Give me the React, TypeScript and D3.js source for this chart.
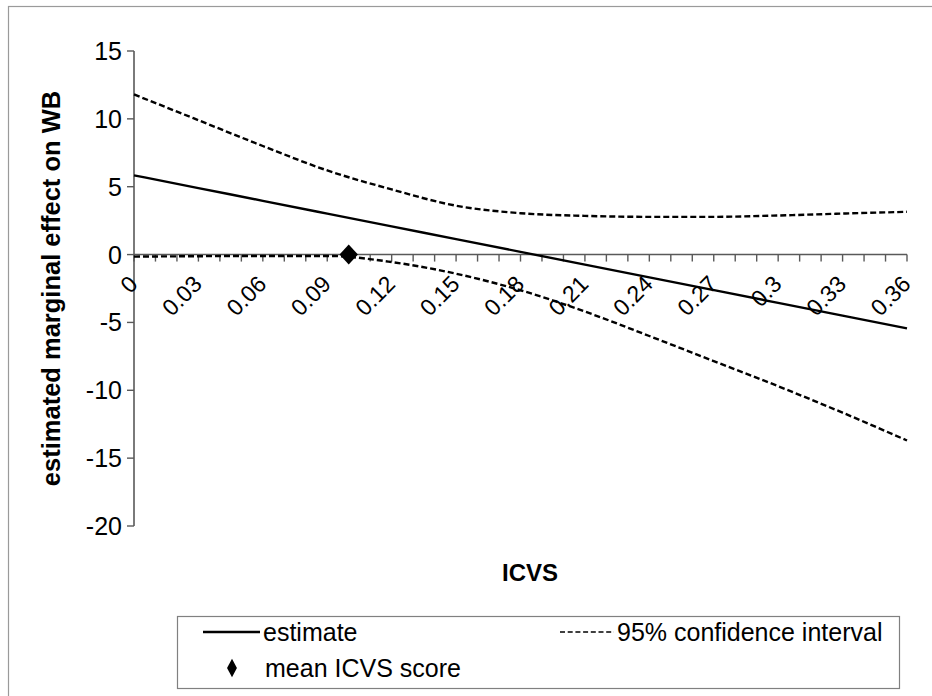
import React from "react";
import * as d3 from "d3";

const icvs = [0, 0.03, 0.06, 0.09, 0.12, 0.15, 0.18, 0.21, 0.24, 0.27, 0.3, 0.33, 0.36];
const estimate = [5.84, 4.9, 3.96, 3.02, 2.08, 1.14, 0.2, -0.74, -1.68, -2.62, -3.56, -4.5, -5.44];
const upperCI = [11.8, 9.9, 8.0, 6.2, 4.8, 3.6, 3.05, 2.85, 2.78, 2.78, 2.88, 3.02, 3.15];
const lowerCI = [-0.15, -0.12, -0.1, -0.1, -0.55, -1.41, -2.63, -4.2, -6.0, -7.85, -9.7, -11.65, -13.7];
const meanICVS = [0.1];
const meanEffect = [0];
const yTicks = [15, 10, 5, 0, -5, -10, -15, -20];
const xLabelTicks = [0, 0.03, 0.06, 0.09, 0.12, 0.15, 0.18, 0.21, 0.24, 0.27, 0.3, 0.33, 0.36];
const xLabels = ["0", "0.03", "0.06", "0.09", "0.12", "0.15", "0.18", "0.21", "0.24", "0.27", "0.3", "0.33", "0.36"];
const legendLabels = ["estimate", "95% confidence interval", "mean ICVS score"];

const W = 932;
const H = 696;
const FONT = "'Liberation Sans', Arial, Helvetica, sans-serif";

export default function App() {
  const x = d3.scaleLinear().domain([0, 0.36]).range([134, 907]);
  const y = d3.scaleLinear().domain([-20, 15]).range([526, 51]);
  const minorTicks = d3.range(0, 37).map((i) => i / 100);

  const line = d3
    .line<[number, number]>()
    .x((d) => x(d[0]))
    .y((d) => y(d[1]))
    .curve(d3.curveMonotoneX);

  const estPath = line(icvs.map((v, i) => [v, estimate[i]]) as [number, number][]) || "";
  const upPath = line(icvs.map((v, i) => [v, upperCI[i]]) as [number, number][]) || "";
  const loPath = line(icvs.map((v, i) => [v, lowerCI[i]]) as [number, number][]) || "";
  const diamond = d3.symbol().type(d3.symbolSquare).size(200)() || "";
  const smallDiamond = d3.symbol().type(d3.symbolDiamond).size(70)() || "";

  const axisColor = "#595959";

  return (
    <svg
      width={W}
      height={H}
      style={{ position: "absolute", left: 0, top: 0, background: "#fff" }}
      fontFamily={FONT}
    >
      <rect x={8.5} y={6.5} width={W} height={H} fill="#fff" stroke="#9a9a9a" strokeWidth={1.2} />

      {/* y axis */}
      <line x1={x(0)} x2={x(0)} y1={y(15)} y2={y(-20)} stroke={axisColor} strokeWidth={1.6} />
      {yTicks.map((t) => (
        <g key={"y" + t}>
          <line x1={x(0) - 7} x2={x(0)} y1={y(t)} y2={y(t)} stroke={axisColor} strokeWidth={1.4} />
          <text x={x(0) - 12} y={y(t)} dy="0.36em" textAnchor="end" fontSize={25} fill="#000">
            {t}
          </text>
        </g>
      ))}

      {/* x axis at y = 0 */}
      <line x1={x(0)} x2={x(0.36)} y1={y(0)} y2={y(0)} stroke={axisColor} strokeWidth={1.6} />
      {minorTicks.map((t) => (
        <line key={"xt" + t} x1={x(t)} x2={x(t)} y1={y(0)} y2={y(0) + 7} stroke={axisColor} strokeWidth={1.4} />
      ))}
      {xLabelTicks.map((t, i) => (
        <text
          key={"xl" + t}
          transform={`translate(${x(t) + 5},${y(0) + 31}) rotate(-45)`}
          textAnchor="end"
          fontSize={23}
          fill="#000"
        >
          {xLabels[i]}
        </text>
      ))}

      {/* series */}
      <path d={upPath} fill="none" stroke="#000" strokeWidth={2.4} strokeDasharray="6 3" />
      <path d={loPath} fill="none" stroke="#000" strokeWidth={2.4} strokeDasharray="6 3" />
      <path d={estPath} fill="none" stroke="#000" strokeWidth={2.4} />
      {meanICVS.map((m, i) => (
        <path
          key={"m" + i}
          d={diamond}
          transform={`translate(${x(m)},${y(meanEffect[i])}) scale(0.92,1) rotate(45)`}
          fill="#000"
        />
      ))}

      {/* axis titles */}
      <text x={530} y={581} textAnchor="middle" fontSize={24} fontWeight="bold" fill="#000">
        ICVS
      </text>
      <text
        transform={`translate(60,${(y(15) + y(-20)) / 2}) rotate(-90)`}
        textAnchor="middle"
        fontSize={25.5}
        fontWeight="bold"
        fill="#000"
      >
        estimated marginal effect on WB
      </text>

      {/* legend */}
      <rect x={177.5} y={616.5} width={722} height={72} fill="#fff" stroke="#808080" strokeWidth={1.2} />
      <line x1={203} x2={260} y1={632} y2={632} stroke="#000" strokeWidth={2.4} />
      <text x={263} y={632} dy="0.36em" fontSize={25} fill="#000">
        {legendLabels[0]}
      </text>
      <line x1={560} x2={614} y1={632} y2={632} stroke="#000" strokeWidth={1.6} strokeDasharray="5 2.7" />
      <text x={617} y={632} dy="0.36em" fontSize={25} fill="#000">
        {legendLabels[1]}
      </text>
      <path d={smallDiamond} transform={`translate(232,668) scale(1.1,1.2)`} fill="#000" />
      <text x={265} y={668} dy="0.36em" fontSize={25} fill="#000">
        {legendLabels[2]}
      </text>
    </svg>
  );
}
